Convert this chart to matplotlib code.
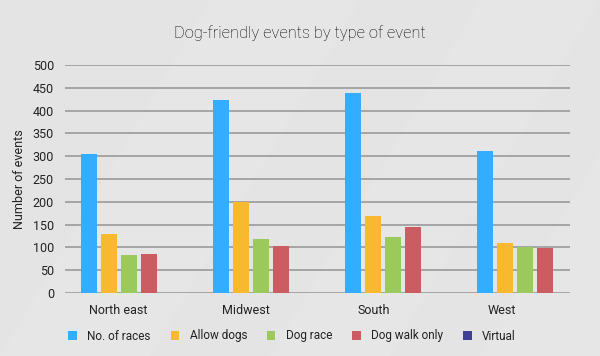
import matplotlib
matplotlib.use("Agg")
import matplotlib.pyplot as plt
from matplotlib.patches import Patch, Polygon
import numpy as np

# data
regions = ["North east", "Midwest", "South", "West"]
series = ["No. of races", "Allow dogs", "Dog race", "Dog walk only", "Virtual"]
no_of_races = [305, 423, 439, 311]
allow_dogs = [130, 200, 169, 110]
dog_race = [83, 118, 123, 101]
dog_walk_only = [86, 103, 145, 99]
virtual = [0, 0, 0, 0]
colors = ["#33adff", "#f8b930", "#9bc95b", "#cb5c62", "#3f3f94"]

plt.rcParams["font.family"] = ["Roboto", "DejaVu Sans"]

fig = plt.figure(figsize=(6, 3.56), dpi=100)
fig.patch.set_facecolor("#e4e4e4")

# faint diagonal bands behind everything
bg = fig.add_axes([0, 0, 1, 1], zorder=-1)
bg.set_axis_off()
bg.set_xlim(0, 1)
bg.set_ylim(0, 1)
for x0, w, a in [(0.0, 0.25, 0.35), (0.45, 0.2, 0.25), (0.8, 0.3, 0.3)]:
    bg.add_patch(Polygon([(x0, 0), (x0 + w, 0), (x0 + w + 0.35, 1), (x0 + 0.35, 1)],
                         closed=True, facecolor="#ececec", edgecolor="none", alpha=a))

ax = fig.add_axes([65 / 600, 63 / 356, 505 / 600, 228 / 356], zorder=2)
ax.set_facecolor("none")

values = [no_of_races, allow_dogs, dog_race, dog_walk_only, virtual]
x = np.arange(len(regions))
slot = 20 / 132
width = 16 / 132
for k, (vals, col, name) in enumerate(zip(values, colors, series)):
    ax.bar(x + k * slot, vals, width=width, align="edge", color=col, label=name, zorder=3)

ax.set_xlim(-16 / 132, 489 / 132)
ax.set_ylim(0, 500)
ax.set_yticks(range(0, 501, 50))
ax.yaxis.grid(True, color="#9a9a9a", linewidth=1.2, zorder=1)
ax.set_axisbelow(True)
for s in ax.spines.values():
    s.set_visible(False)
ax.tick_params(axis="both", length=0, labelsize=9, colors="#222222")
ax.tick_params(axis="y", pad=8)
ax.set_xticks(x + 0.28 - 0.03 * x)
ax.set_xticklabels(regions)
ax.tick_params(axis="x", pad=8)
ax.set_ylabel("Number of events", fontsize=9, color="#222222", labelpad=5)

fig.text(0.5, 1 - 33 / 356, "Dog-friendly events by type of event", ha="center",
         va="center", fontsize=11.8, fontweight="light", color="#000000")

handles = [Patch(facecolor=c, edgecolor="none") for c in colors]
fig.legend(handles, series, loc="center", bbox_to_anchor=(0.487, 1 - 336 / 356),
           ncol=5, frameon=False, fontsize=8.5, handlelength=0.7, handleheight=0.7,
           handletextpad=0.9, columnspacing=1.7, labelcolor="#222222")

fig.savefig("out.png", dpi=100, facecolor=fig.get_facecolor())
